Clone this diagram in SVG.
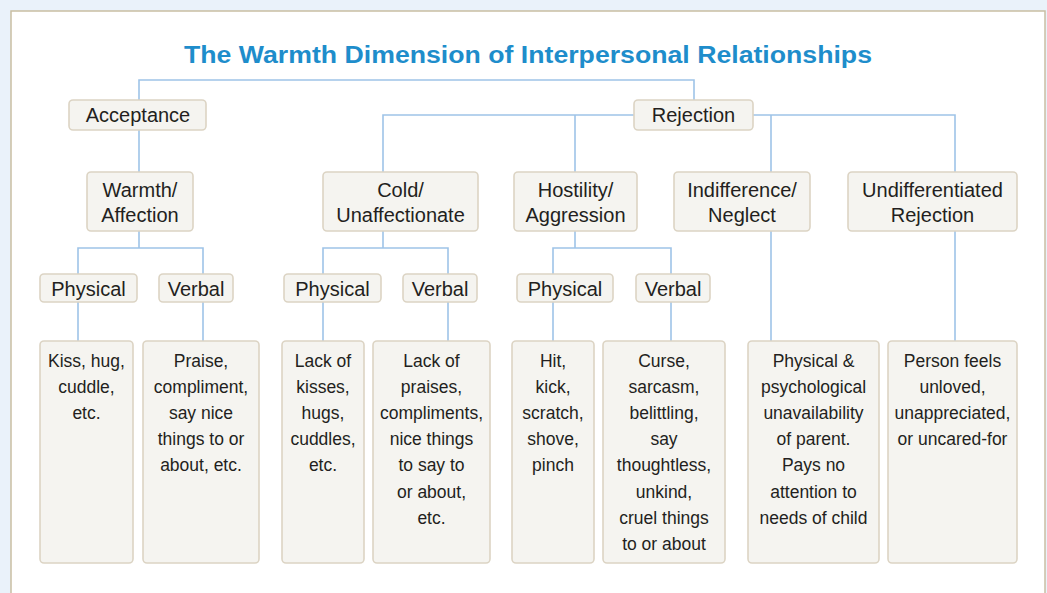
<svg xmlns="http://www.w3.org/2000/svg" width="1047" height="593" viewBox="0 0 1047 593">
<style>
.box{fill:#F5F4F0;stroke:#DCD4C4;stroke-width:1.6}
.t{font-family:"Liberation Sans",Arial,sans-serif;font-size:20px;fill:#231F20;text-anchor:middle}
.s{font-family:"Liberation Sans",Arial,sans-serif;font-size:17.5px;fill:#231F20;text-anchor:middle}
.ln{fill:none;stroke:#9EC4E8;stroke-width:1.6}
</style>
<rect x="0" y="0" width="1047" height="593" fill="#EAF2FA"/>
<rect x="11" y="11" width="1034" height="600" fill="#FFFFFF" stroke="#C9BEA3" stroke-width="1.5"/>
<text x="184" y="63" textLength="688" lengthAdjust="spacingAndGlyphs" style="font-family:'Liberation Sans',Arial,sans-serif;font-weight:bold;font-size:23px;fill:#1E8DCB">The Warmth Dimension of Interpersonal Relationships</text>
<g id="connectors" class="ln">
<path d="M139 100V80H694V100"/>
<path d="M139 130V172"/>
<path d="M634 115H383V172M575 115V172M753 115H955V172M771 115V172"/>
<path d="M139 231V248M78 274V248H203V274"/>
<path d="M383 231V248M323 274V248H448V274"/>
<path d="M575 231V248M553 274V248H671V274"/>
<path d="M78 302V341M203 302V341M323 302V341M448 302V341M553 302V341M671 302V341"/>
<path d="M771 231V341M955 231V341"/>
</g>
<g id="acceptance"><rect class="box" x="69" y="100" width="137" height="30" rx="4"/><text class="t" x="138" y="121.5">Acceptance</text></g>
<g id="rejection"><rect class="box" x="634" y="100" width="119" height="30" rx="4"/><text class="t" x="693.5" y="121.5">Rejection</text></g>
<g id="warmth"><rect class="box" x="87" y="172" width="106" height="59" rx="4"/><text class="t" x="140" y="197">Warmth/</text><text class="t" x="140" y="222">Affection</text></g>
<g id="cold"><rect class="box" x="323" y="172" width="155" height="59" rx="4"/><text class="t" x="400.5" y="197">Cold/</text><text class="t" x="400.5" y="222">Unaffectionate</text></g>
<g id="hostility"><rect class="box" x="514" y="172" width="123" height="59" rx="4"/><text class="t" x="575.5" y="197">Hostility/</text><text class="t" x="575.5" y="222">Aggression</text></g>
<g id="indifference"><rect class="box" x="674" y="172" width="136" height="59" rx="4"/><text class="t" x="742" y="197">Indifference/</text><text class="t" x="742" y="222">Neglect</text></g>
<g id="undifferentiated"><rect class="box" x="848" y="172" width="169" height="59" rx="4"/><text class="t" x="932.5" y="197">Undifferentiated</text><text class="t" x="932.5" y="222">Rejection</text></g>
<g id="warmth-physical"><rect class="box" x="40" y="274" width="97" height="28" rx="4"/><text class="t" x="88.5" y="296">Physical</text></g>
<g id="warmth-verbal"><rect class="box" x="159" y="274" width="74" height="28" rx="4"/><text class="t" x="196" y="296">Verbal</text></g>
<g id="cold-physical"><rect class="box" x="284" y="274" width="97" height="28" rx="4"/><text class="t" x="332.5" y="296">Physical</text></g>
<g id="cold-verbal"><rect class="box" x="403" y="274" width="74" height="28" rx="4"/><text class="t" x="440" y="296">Verbal</text></g>
<g id="hostility-physical"><rect class="box" x="517" y="274" width="96" height="28" rx="4"/><text class="t" x="565" y="296">Physical</text></g>
<g id="hostility-verbal"><rect class="box" x="636" y="274" width="74" height="28" rx="4"/><text class="t" x="673" y="296">Verbal</text></g>
<g id="d-kiss"><rect class="box" x="40" y="341" width="93" height="222" rx="4"/><text class="s" x="86.5" y="366.5">Kiss, hug,</text><text class="s" x="86.5" y="392.7">cuddle,</text><text class="s" x="86.5" y="418.9">etc.</text></g>
<g id="d-praise"><rect class="box" x="143" y="341" width="116" height="222" rx="4"/><text class="s" x="201" y="366.5">Praise,</text><text class="s" x="201" y="392.7">compliment,</text><text class="s" x="201" y="418.9">say nice</text><text class="s" x="201" y="445.1">things to or</text><text class="s" x="201" y="471.3">about, etc.</text></g>
<g id="d-lack-kisses"><rect class="box" x="282" y="341" width="82" height="222" rx="4"/><text class="s" x="323" y="366.5">Lack of</text><text class="s" x="323" y="392.7">kisses,</text><text class="s" x="323" y="418.9">hugs,</text><text class="s" x="323" y="445.1">cuddles,</text><text class="s" x="323" y="471.3">etc.</text></g>
<g id="d-lack-praises"><rect class="box" x="373" y="341" width="117" height="222" rx="4"/><text class="s" x="431.5" y="366.5">Lack of</text><text class="s" x="431.5" y="392.7">praises,</text><text class="s" x="431.5" y="418.9">compliments,</text><text class="s" x="431.5" y="445.1">nice things</text><text class="s" x="431.5" y="471.3">to say to</text><text class="s" x="431.5" y="497.5">or about,</text><text class="s" x="431.5" y="523.7">etc.</text></g>
<g id="d-hit"><rect class="box" x="512" y="341" width="82" height="222" rx="4"/><text class="s" x="553" y="366.5">Hit,</text><text class="s" x="553" y="392.7">kick,</text><text class="s" x="553" y="418.9">scratch,</text><text class="s" x="553" y="445.1">shove,</text><text class="s" x="553" y="471.3">pinch</text></g>
<g id="d-curse"><rect class="box" x="603" y="341" width="122" height="222" rx="4"/><text class="s" x="664" y="366.5">Curse,</text><text class="s" x="664" y="392.7">sarcasm,</text><text class="s" x="664" y="418.9">belittling,</text><text class="s" x="664" y="445.1">say</text><text class="s" x="664" y="471.3">thoughtless,</text><text class="s" x="664" y="497.5">unkind,</text><text class="s" x="664" y="523.7">cruel things</text><text class="s" x="664" y="549.9">to or about</text></g>
<g id="d-physical-psych"><rect class="box" x="748" y="341" width="131" height="222" rx="4"/><text class="s" x="813.5" y="366.5">Physical &amp;</text><text class="s" x="813.5" y="392.7">psychological</text><text class="s" x="813.5" y="418.9">unavailability</text><text class="s" x="813.5" y="445.1">of parent.</text><text class="s" x="813.5" y="471.3">Pays no</text><text class="s" x="813.5" y="497.5">attention to</text><text class="s" x="813.5" y="523.7">needs of child</text></g>
<g id="d-person"><rect class="box" x="888" y="341" width="129" height="222" rx="4"/><text class="s" x="952.5" y="366.5">Person feels</text><text class="s" x="952.5" y="392.7">unloved,</text><text class="s" x="952.5" y="418.9">unappreciated,</text><text class="s" x="952.5" y="445.1">or uncared-for</text></g>
</svg>
